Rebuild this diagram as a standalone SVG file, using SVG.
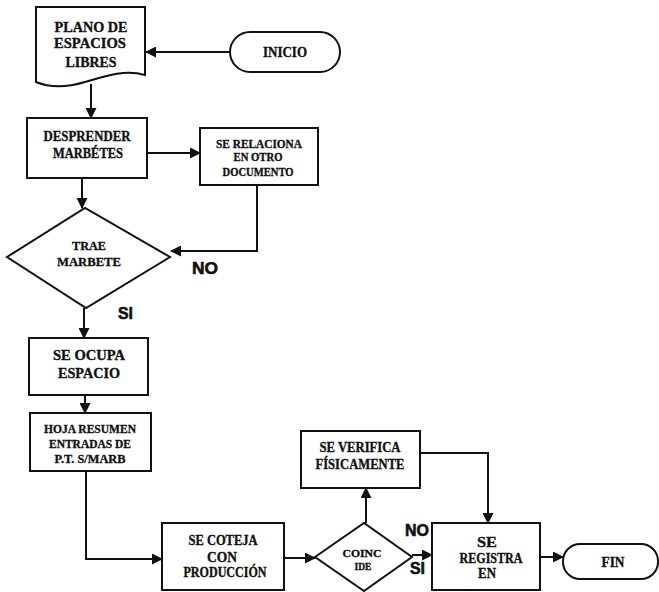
<svg xmlns="http://www.w3.org/2000/svg" width="659" height="592" viewBox="0 0 659 592">
  <style>
    .shape { fill: #fff; stroke: #111; stroke-width: 2; }
    .link { fill: none; stroke: #111; stroke-width: 2; }
    .lbl { font-family: "Liberation Serif", "Times New Roman", serif; font-weight: bold; fill: #111; stroke: #111; stroke-width: 0.35; text-anchor: middle; }
    .tag { font-family: "Liberation Sans", Arial, sans-serif; font-weight: bold; fill: #111; stroke: #111; stroke-width: 0.6; font-size: 17px; }
  </style>
  <defs>
    <marker id="arrow" markerUnits="userSpaceOnUse" markerWidth="11" markerHeight="11" refX="10" refY="5.5" orient="auto">
      <path d="M0,0 L11,5.5 L0,11 Z" fill="#111"/>
    </marker>
  </defs>

  <!-- connectors -->
  <g id="connectors">
    <line class="link" x1="230" y1="52" x2="146" y2="52" marker-end="url(#arrow)"/>
    <line class="link" x1="91" y1="84" x2="91" y2="118" marker-end="url(#arrow)"/>
    <line class="link" x1="147" y1="153" x2="200" y2="153" marker-end="url(#arrow)"/>
    <line class="link" x1="82" y1="178" x2="82" y2="208" marker-end="url(#arrow)"/>
    <path class="link" d="M257,185 V251 H171" marker-end="url(#arrow)"/>
    <line class="link" x1="84" y1="308" x2="84" y2="338" marker-end="url(#arrow)"/>
    <line class="link" x1="85" y1="395" x2="85" y2="413" marker-end="url(#arrow)"/>
    <path class="link" d="M86,471 V559 H162" marker-end="url(#arrow)"/>
    <line class="link" x1="284" y1="558" x2="315" y2="558" marker-end="url(#arrow)"/>
    <line class="link" x1="366" y1="523" x2="366" y2="488" marker-end="url(#arrow)"/>
    <path class="link" d="M420,453 H488 V523" marker-end="url(#arrow)"/>
    <line class="link" x1="412" y1="555" x2="432" y2="555" marker-end="url(#arrow)"/>
    <line class="link" x1="540" y1="557" x2="563" y2="557" marker-end="url(#arrow)"/>
  </g>

  <!-- branch labels -->
  <g id="branch-labels">
    <text class="tag" x="192" y="274" textLength="26" lengthAdjust="spacingAndGlyphs">NO</text>
    <text class="tag" x="118" y="319" textLength="15" lengthAdjust="spacingAndGlyphs">SI</text>
    <text class="tag" x="405" y="536" textLength="24" lengthAdjust="spacingAndGlyphs">NO</text>
    <text class="tag" x="410" y="574" textLength="15" lengthAdjust="spacingAndGlyphs">SI</text>
  </g>

  <g id="plano">
    <path class="shape" d="M36,7 H145 V75 C125,69 105,76 85,82 C65,88 48,87 36,82 Z"/>
    <text class="lbl" font-size="15" x="91" y="32" textLength="73" lengthAdjust="spacingAndGlyphs">PLANO DE</text>
    <text class="lbl" font-size="15" x="90" y="48" textLength="72" lengthAdjust="spacingAndGlyphs">ESPACIOS</text>
    <text class="lbl" font-size="15" x="91" y="67" textLength="51" lengthAdjust="spacingAndGlyphs">LIBRES</text>
  </g>

  <g id="inicio">
    <rect class="shape" x="230" y="32" width="110" height="40" rx="20" ry="20"/>
    <text class="lbl" font-size="15" x="285" y="57" textLength="44" lengthAdjust="spacingAndGlyphs">INICIO</text>
  </g>

  <g id="desprender">
    <rect class="shape" x="27" y="118" width="120" height="60"/>
    <text class="lbl" font-size="15" x="87" y="141" textLength="87" lengthAdjust="spacingAndGlyphs">DESPRENDER</text>
    <text class="lbl" font-size="15" x="88" y="158" textLength="70" lengthAdjust="spacingAndGlyphs">MARBÉTES</text>
  </g>

  <g id="relaciona">
    <rect class="shape" x="200" y="128" width="118" height="57"/>
    <text class="lbl" font-size="12.5" x="259" y="148" textLength="86" lengthAdjust="spacingAndGlyphs">SE RELACIONA</text>
    <text class="lbl" font-size="12.5" x="258" y="161" textLength="49" lengthAdjust="spacingAndGlyphs">EN OTRO</text>
    <text class="lbl" font-size="12.5" x="258" y="176" textLength="71" lengthAdjust="spacingAndGlyphs">DOCUMENTO</text>
  </g>

  <g id="trae-marbete">
    <polygon class="shape" points="7,257 85,208 170,257 86,308"/>
    <text class="lbl" font-size="13.5" x="89" y="250" textLength="34" lengthAdjust="spacingAndGlyphs">TRAE</text>
    <text class="lbl" font-size="13.5" x="89" y="266" textLength="64" lengthAdjust="spacingAndGlyphs">MARBETE</text>
  </g>

  <g id="ocupa">
    <rect class="shape" x="29" y="338" width="119" height="57"/>
    <text class="lbl" font-size="15" x="89" y="360" textLength="72" lengthAdjust="spacingAndGlyphs">SE OCUPA</text>
    <text class="lbl" font-size="15" x="89" y="378" textLength="62" lengthAdjust="spacingAndGlyphs">ESPACIO</text>
  </g>

  <g id="hoja-resumen">
    <rect class="shape" x="30" y="413" width="121" height="58"/>
    <text class="lbl" font-size="12.5" x="90" y="433" textLength="92" lengthAdjust="spacingAndGlyphs">HOJA RESUMEN</text>
    <text class="lbl" font-size="12.5" x="90" y="448" textLength="82" lengthAdjust="spacingAndGlyphs">ENTRADAS DE</text>
    <text class="lbl" font-size="12.5" x="90" y="463" textLength="71" lengthAdjust="spacingAndGlyphs">P.T. S/MARB</text>
  </g>

  <g id="coteja">
    <rect class="shape" x="162" y="523" width="122" height="67"/>
    <text class="lbl" font-size="15" x="223" y="545" textLength="69" lengthAdjust="spacingAndGlyphs">SE COTEJA</text>
    <text class="lbl" font-size="15" x="222" y="562" textLength="30" lengthAdjust="spacingAndGlyphs">CON</text>
    <text class="lbl" font-size="15" x="225" y="577" textLength="83" lengthAdjust="spacingAndGlyphs">PRODUCCIÓN</text>
  </g>

  <g id="coincide">
    <polygon class="shape" points="315,557 364,523 412,557 364,591"/>
    <text class="lbl" font-size="11" x="362" y="557" textLength="39" lengthAdjust="spacingAndGlyphs">COINC</text>
    <text class="lbl" font-size="11" x="363" y="570" textLength="17" lengthAdjust="spacingAndGlyphs">IDE</text>
  </g>

  <g id="verifica">
    <rect class="shape" x="301" y="431" width="119" height="57"/>
    <text class="lbl" font-size="15" x="360" y="452" textLength="81" lengthAdjust="spacingAndGlyphs">SE VERIFICA</text>
    <text class="lbl" font-size="15" x="360" y="469" textLength="89" lengthAdjust="spacingAndGlyphs">FÍSICAMENTE</text>
  </g>

  <g id="registra">
    <rect class="shape" x="432" y="523" width="108" height="67"/>
    <text class="lbl" font-size="15" x="487" y="547" textLength="20" lengthAdjust="spacingAndGlyphs">SE</text>
    <text class="lbl" font-size="15" x="491" y="563" textLength="63" lengthAdjust="spacingAndGlyphs">REGISTRA</text>
    <text class="lbl" font-size="15" x="487" y="578" textLength="18" lengthAdjust="spacingAndGlyphs">EN</text>
  </g>

  <g id="fin">
    <rect class="shape" x="563" y="544" width="95" height="35" rx="17" ry="17"/>
    <text class="lbl" font-size="15" x="613" y="567" textLength="23" lengthAdjust="spacingAndGlyphs">FIN</text>
  </g>
</svg>
